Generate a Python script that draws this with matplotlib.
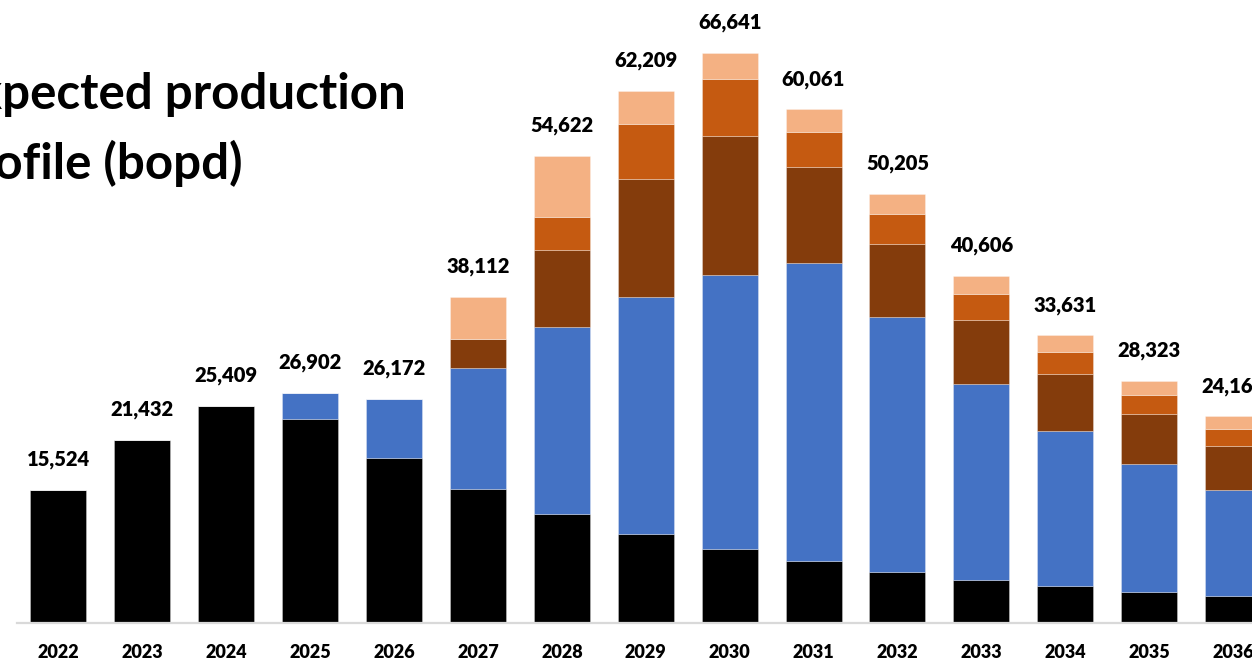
import matplotlib
matplotlib.use("Agg")
import matplotlib.pyplot as plt
import numpy as np

years = ["2022", "2023", "2024", "2025", "2026", "2027", "2028", "2029",
         "2030", "2031", "2032", "2033", "2034", "2035", "2036"]
totals = [15524, 21432, 25409, 26902, 26172, 38112, 54622, 62209,
          66641, 60061, 50205, 40606, 33631, 28323, 24165]
base = [15524, 21432, 25409, 23816, 19256, 15630, 12744, 10441,
        8687, 7214, 5998, 5027, 4361, 3660, 3192]
blue = [0, 0, 0, 3086, 6916, 14220, 21900, 27639,
        31965, 34912, 29744, 22917, 18123, 14895, 12393]
dark = [0, 0, 0, 0, 0, 3320, 9002, 13796,
        16252, 11154, 8606, 7518, 6594, 5846, 5075]
orange = [0, 0, 0, 0, 0, 0, 3858, 6501,
          6699, 4127, 3507, 3039, 2642, 2256, 2057]
# top segment = remainder to labelled total
peach = [t - (a + b + c + d) for t, a, b, c, d in zip(totals, base, blue, dark, orange)]

series = [base, blue, dark, orange, peach]
colors = ["#000000", "#4472C4", "#843C0C", "#C55A11", "#F4B183"]

W, H, DPI = 1252, 660, 100
fig = plt.figure(figsize=(W / DPI, H / DPI), dpi=DPI)
fig.patch.set_facecolor("white")

spacing = 83.9
left_px = 16.5
base_px = 623
ax = fig.add_axes([left_px / W, (H - base_px) / H, 15 * spacing / W, base_px / H])
ymax = base_px / 0.00855
ax.set_xlim(-0.5, 14.5)
ax.set_ylim(0, ymax)

x = np.arange(len(years))
bottom = np.zeros(len(years))
for vals, col in zip(series, colors):
    v = np.array(vals, dtype=float)
    ax.bar(x, v, width=0.667, bottom=bottom, color=col,
           edgecolor=(1, 1, 1, 0.35), linewidth=0.6, zorder=2)
    bottom += v

for xi, t in zip(x, totals):
    ax.annotate(f"{t:,}", (xi, t), xytext=(0, 17.5), textcoords="offset points",
                ha="center", va="baseline", fontsize=14.5, fontweight="heavy",
                family="Lato", color="black")

for s in ["top", "right", "left"]:
    ax.spines[s].set_visible(False)
ax.spines["bottom"].set_color("#D9D9D9")
ax.spines["bottom"].set_linewidth(1.6)
ax.set_yticks([])
ax.set_xticks(x)
ax.set_xticklabels(years, fontsize=13, fontweight="heavy", family="Lato")
ax.tick_params(axis="x", length=0, pad=15)

# Title (partly cut off on the left, as in the reference)
renderer = fig.canvas.get_renderer()
fs = 30
probe = fig.text(0, 0, "pected production", fontsize=fs, fontweight="bold", family="Lato")
wpx = probe.get_window_extent(renderer).width
probe.remove()
fs = fs * 403 / wpx

def place(full, cut, x_vis, y_base):
    p = fig.text(0, 0, cut, fontsize=fs, fontweight="bold", family="Lato")
    cw = p.get_window_extent(renderer).width
    p.remove()
    fig.text((x_vis - cw) / W, (H - y_base) / H, full, fontsize=fs,
             fontweight="bold", family="Lato", ha="left", va="baseline")

place("Expected production", "Ex", 2, 109)
place("profile (bopd)", "pr", -6, 179)

fig.savefig("out.png", dpi=DPI)
